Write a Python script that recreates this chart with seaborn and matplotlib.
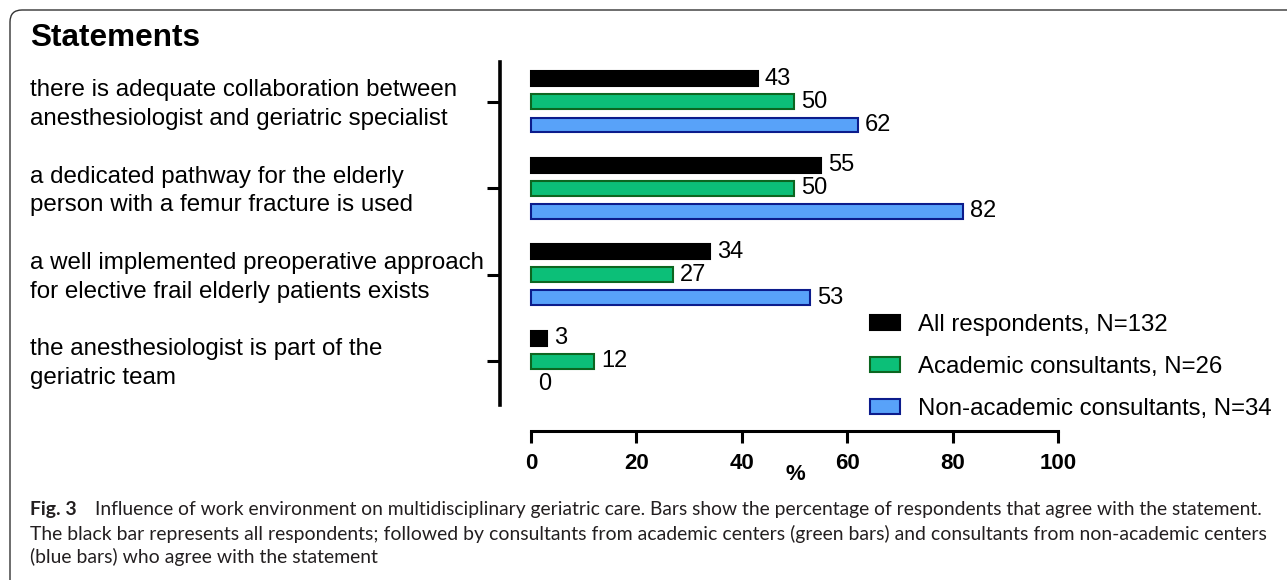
import matplotlib
matplotlib.use('Agg')
import matplotlib.pyplot as plt
from matplotlib.patches import FancyBboxPatch, Patch
from matplotlib.transforms import blended_transform_factory, IdentityTransform
import pandas as pd
import seaborn as sns

# data
statements = [
    'there is adequate collaboration between\nanesthesiologist and geriatric specialist',
    'a dedicated pathway for the elderly\nperson with a femur fracture is used',
    'a well implemented preoperative approach\nfor elective frail elderly patients exists',
    'the anesthesiologist is part of the\ngeriatric team',
]
groups = ['All respondents, N=132', 'Academic consultants, N=26',
          'Non-academic consultants, N=34']
all_resp = [43, 55, 34, 3]
academic = [50, 50, 27, 12]
non_academic = [62, 82, 53, 0]
x_ticks = [0, 20, 40, 60, 80, 100]

fill_colors = ['#000000', '#0cbf78', '#58a2f9']
edge_colors = ['#000000', '#0c6620', '#0c1c8c']

caption_lines = [
    'Influence of work environment on multidisciplinary geriatric care. Bars show the percentage of respondents that agree with the statement.',
    'The black bar represents all respondents; followed by consultants from academic centers (green bars) and consultants from non-academic centers',
    '(blue bars) who agree with the statement',
]

rows = []
for g, vals in zip(groups, [all_resp, academic, non_academic]):
    for s, v in zip(statements, vals):
        rows.append({'statement': s, 'group': g, 'percent': v})
df = pd.DataFrame(rows)

sns.set_style('white')
plt.rcParams['font.family'] = ['Liberation Sans', 'DejaVu Sans']
for key in ['text.color', 'axes.labelcolor', 'xtick.color', 'ytick.color',
            'axes.edgecolor']:
    plt.rcParams[key] = 'black'

W, H = 1287, 580
fig = plt.figure(figsize=(W / 100, H / 100), dpi=100)
ax = fig.add_axes([500 / W, 1 - 431 / H, 558 / W, 369 / H])

sns.barplot(data=df, x='percent', y='statement', hue='group', order=statements,
            hue_order=groups, palette=fill_colors, saturation=1, orient='h',
            width=0.8, gap=0.35, ax=ax, legend=False)

for cont, ec in zip(ax.containers, edge_colors):
    for bar in cont:
        bar.set_edgecolor(ec)
        bar.set_linewidth(1.5)
        if bar.get_width() == 0:
            bar.set_linewidth(0)
    ax.bar_label(cont, padding=5, fontsize=17, color='black')

ax.set_xlim(-5.88, 100)
ax.set_ylim(3.81, -0.463)
ax.set_xticks(x_ticks)
ax.set_yticks(range(len(statements)))
ax.set_yticklabels([])
ax.set_ylabel('')
ax.set_xlabel('%', fontsize=16, fontweight='bold')
ax.xaxis.set_label_coords(0.5287, -0.119)
ax.xaxis.label.set_va('center')

for side in ['top', 'right']:
    ax.spines[side].set_visible(False)
ax.spines['left'].set_bounds(-0.463, 3.51)
ax.spines['left'].set_linewidth(2.6)
ax.spines['bottom'].set_bounds(0, 100)
ax.spines['bottom'].set_linewidth(2.2)
ax.tick_params(axis='y', length=9.4, width=2.2, left=True, direction='out')
ax.tick_params(axis='x', length=8.6, width=2.2, bottom=True, direction='out',
               labelsize=16, pad=7)
for lab in ax.get_xticklabels():
    lab.set_fontweight('bold')

# statement labels, left aligned at the figure's left margin
tr = blended_transform_factory(fig.transFigure, ax.transData)
for i, s in enumerate(statements):
    ax.text(30 / W, i + 0.03, s, transform=tr, ha='left', va='center',
            fontsize=17.4, linespacing=1.38, clip_on=False)

fig.text(30 / W, 1 - 38 / H, 'Statements', fontsize=22.7, fontweight='bold',
         va='center')

handles = [Patch(facecolor=f, edgecolor=e, linewidth=1.5)
           for f, e in zip(fill_colors, edge_colors)]
fig.legend(handles, groups, loc='upper left', bbox_to_anchor=(870 / W, 1 - 314 / H),
           frameon=False, fontsize=17.3, handlelength=1.25, handleheight=0.62,
           handletextpad=0.75, labelspacing=0.83, borderpad=0, borderaxespad=0)

# caption, each line fitted to its width in the reference
renderer = fig.canvas.get_renderer()
cap_font = ['Lato', 'DejaVu Sans']
cap_col = '#231f20'


def fit_size(text, target):
    probe = fig.text(0, 0, text, fontsize=12, family=cap_font)
    w = probe.get_window_extent(renderer).width
    probe.remove()
    return 12 * target / w


size1 = fit_size(caption_lines[0], 1262 - 95)
size2 = fit_size(caption_lines[1], 1262 - 30)
fig.text(30 / W, 1 - 510 / H, 'Fig. 3', fontsize=size2, family=cap_font,
         fontweight='bold', va='center', color=cap_col)
fig.text(95 / W, 1 - 510 / H, caption_lines[0], fontsize=size1, family=cap_font,
         va='center', color=cap_col)
fig.text(30 / W, 1 - 534 / H, caption_lines[1], fontsize=size2, family=cap_font,
         va='center', color=cap_col)
fig.text(30 / W, 1 - 557 / H, caption_lines[2], fontsize=size2, family=cap_font,
         va='center', color=cap_col)

border = FancyBboxPatch((10, -40), 1330, 610, boxstyle='round,pad=0,rounding_size=12',
                        transform=IdentityTransform(), facecolor='none',
                        edgecolor='#333333', linewidth=1)
fig.add_artist(border)

fig.savefig('out.png', dpi=100)
